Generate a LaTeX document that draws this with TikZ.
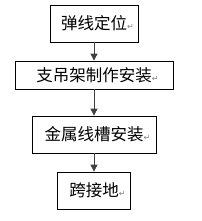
\documentclass[tikz,border=0pt]{standalone}
\usepackage{fontspec}
\newfontfamily\cjk{Noto Sans CJK SC}
\newfontfamily\symfont{DejaVu Sans}
\usetikzlibrary{arrows.meta}
\newcommand{\retmark}{\rlap{\symfont\fontsize{8}{8}\selectfont\textcolor{gray}{↵}}}

\begin{document}
\begin{tikzpicture}[x=1pt, y=-1pt, >={Triangle[length=7pt, width=7pt]},
  stepbox/.style={draw, line width=0.8pt, inner sep=0pt, font=\cjk\fontsize{16.5}{16.5}\selectfont},
  flow/.style={->, line width=0.9pt, black!75}]
  \useasboundingbox (0,0) rectangle (201,221);

  % Steps
  \node[stepbox, minimum width=88pt, minimum height=37pt] (mark) at (94,23.5) {弹线定位\retmark};
  \node[stepbox, minimum width=158pt, minimum height=28pt] (hanger) at (94,75) {支吊架制作安装\retmark};
  \node[stepbox, minimum width=124pt, minimum height=37pt] (trough) at (94,134.5) {金属线槽安装\retmark};
  \node[stepbox, minimum width=73pt, minimum height=37pt] (bond) at (94,190.5) {跨接地\retmark};

  % Arrows
  \draw[flow] (mark) -- (hanger);
  \draw[flow] (hanger) -- (trough);
  \draw[flow] (trough) -- (bond);
\end{tikzpicture}
\end{document}
